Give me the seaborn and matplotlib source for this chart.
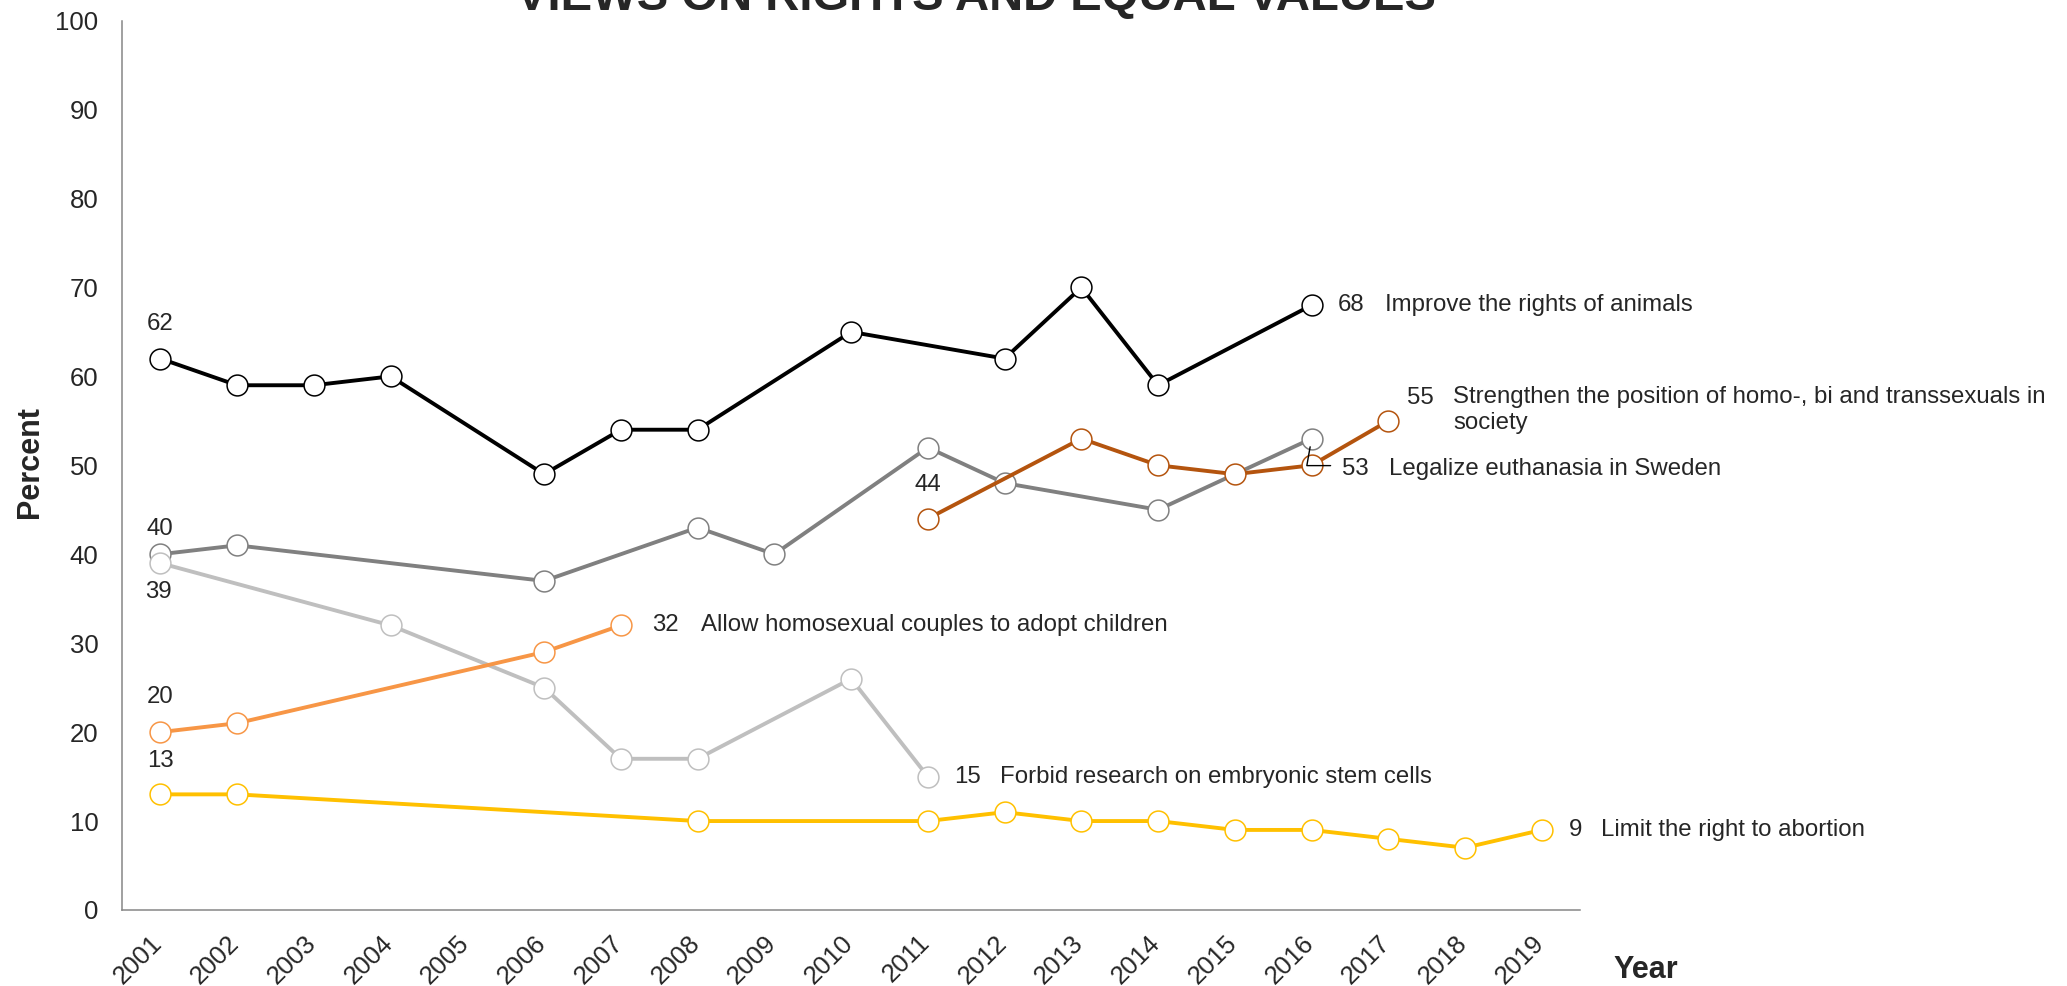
import matplotlib
matplotlib.use("Agg")
import matplotlib.pyplot as plt
import matplotlib.transforms as mtransforms
import seaborn as sns
import pandas as pd

# DATA

years = list(range(2001, 2020))

animals_years = [2001, 2002, 2003, 2004, 2006, 2007, 2008, 2010, 2012, 2013, 2014, 2016]
animals_vals = [62, 59, 59, 60, 49, 54, 54, 65, 62, 70, 59, 68]

euthanasia_years = [2001, 2002, 2006, 2008, 2009, 2011, 2012, 2014, 2016]
euthanasia_vals = [40, 41, 37, 43, 40, 52, 48, 45, 53]

stemcell_years = [2001, 2004, 2006, 2007, 2008, 2010, 2011]
stemcell_vals = [39, 32, 25, 17, 17, 26, 15]

adopt_years = [2001, 2002, 2006, 2007]
adopt_vals = [20, 21, 29, 32]

lgbt_years = [2011, 2013, 2014, 2015, 2016, 2017]
lgbt_vals = [44, 53, 50, 49, 50, 55]

abortion_years = [2001, 2002, 2008, 2011, 2012, 2013, 2014, 2015, 2016, 2017, 2018, 2019]
abortion_vals = [13, 13, 10, 10, 11, 10, 10, 9, 9, 8, 7, 9]

series = [
    ("Improve the rights of animals", animals_years, animals_vals, "#000000"),
    ("Legalize euthanasia in Sweden", euthanasia_years, euthanasia_vals, "#808080"),
    ("Forbid research on embryonic stem cells", stemcell_years, stemcell_vals, "#BFBFBF"),
    ("Allow homosexual couples to adopt children", adopt_years, adopt_vals, "#F79646"),
    ("Strengthen the position of homo-, bi and transsexuals in\nsociety", lgbt_years, lgbt_vals, "#B4540E"),
    ("Limit the right to abortion", abortion_years, abortion_vals, "#FFC000"),
]

# STYLE

sns.set_style("white")
plt.rcParams["font.family"] = ["Liberation Sans", "DejaVu Sans"]
FS = 17.3       # data labels
TICK_FS = 18.5  # axis tick labels

fig = plt.figure(figsize=(20.67, 9.86), dpi=100)
ax = fig.add_axes([0.059, 0.0771, 0.7055, 0.902])

PX = 0.72  # points per pixel at dpi 100

for name, yrs, vals, col in series:
    df = pd.DataFrame({"pos": [y - 2001 for y in yrs], "val": vals})
    sns.lineplot(data=df, x="pos", y="val", ax=ax, color=col, linewidth=2.8,
                 marker="o", markersize=15, markerfacecolor="white",
                 markeredgecolor=col, markeredgewidth=1.1)

ax.set_xlim(-0.5, 18.5)
ax.set_ylim(0, 100)
ax.set_xlabel("")
ax.set_ylabel("")

ax.set_xticks(range(len(years)))
ax.set_xticklabels([str(y) for y in years])
ax.set_xticks([i - 0.5 for i in range(len(years) + 1)], minor=True)
ax.tick_params(axis="x", which="major", length=0, pad=15, labelsize=TICK_FS)
ax.tick_params(axis="x", which="minor", length=5, width=1.1, color="#868686", direction="out")
shift = mtransforms.ScaledTranslation(-10 / 100, 0, fig.dpi_scale_trans)
for lab in ax.get_xticklabels():
    lab.set_rotation(45)
    lab.set_ha("right")
    lab.set_rotation_mode("anchor")
    lab.set_transform(lab.get_transform() + shift)

ax.set_yticks(range(0, 101, 10))
ax.tick_params(axis="y", length=6, width=1.1, color="#868686", direction="out", pad=11,
               labelsize=TICK_FS)

sns.despine(ax=ax)
for s in ["left", "bottom"]:
    ax.spines[s].set_color("#868686")
    ax.spines[s].set_linewidth(1.1)


def label(x, y, text, dx, dy, ha="center", va="center"):
    ax.annotate(text, xy=(x - 2001, y), xytext=(dx * PX, dy * PX),
                textcoords="offset points", ha=ha, va=va, fontsize=FS)


# start value labels
label(2001, 62, "62", 0, 35)
label(2001, 40, "40", 0, 25)
label(2001, 39, "39", -2, -29)
label(2001, 20, "20", 0, 35)
label(2001, 13, "13", 0, 33)
label(2011, 44, "44", 0, 34)

# end labels: value + series name
label(2016, 68, "68", 26, 0, ha="left")
label(2016, 68, series[0][0], 73, 0, ha="left")

label(2016, 53, "53", 30, -30, ha="left")
label(2016, 53, series[1][0], 77, -30, ha="left")
ax.annotate("", xy=(2016 - 2001, 53), xytext=(19 * PX, -27 * PX), textcoords="offset points",
            arrowprops=dict(arrowstyle="-", color="black", lw=1,
                            connectionstyle="angle,angleA=0,angleB=80,rad=0",
                            shrinkA=0, shrinkB=6))

label(2007, 32, "32", 31, 0, ha="left")
label(2007, 32, series[3][0], 80, 0, ha="left")

label(2011, 15, "15", 26, 0, ha="left")
label(2011, 15, series[2][0], 72, 0, ha="left")

label(2017, 55, "55", 19, 23, ha="left")
ax.annotate(series[4][0], xy=(2017 - 2001, 55), xytext=(65 * PX, 34.5 * PX),
            textcoords="offset points", ha="left", va="top", fontsize=FS,
            linespacing=1.2)

label(2019, 9, "9", 27, 0, ha="left")
label(2019, 9, series[5][0], 59, 0, ha="left")

# titles
fig.text(976 / 2067, 1 - 10 / 986, "VIEWS ON RIGHTS AND EQUAL VALUES", ha="center",
         va="baseline", fontsize=34, fontweight="bold")
fig.text(30 / 2067, 1 - 462 / 986, "Percent", rotation=90, ha="center", va="center",
         fontsize=22, fontweight="bold")
fig.text(1646 / 2067, 1 - 970 / 986, "Year", ha="center", va="center",
         fontsize=22, fontweight="bold")

fig.savefig("out.png", dpi=100)
plt.close(fig)
